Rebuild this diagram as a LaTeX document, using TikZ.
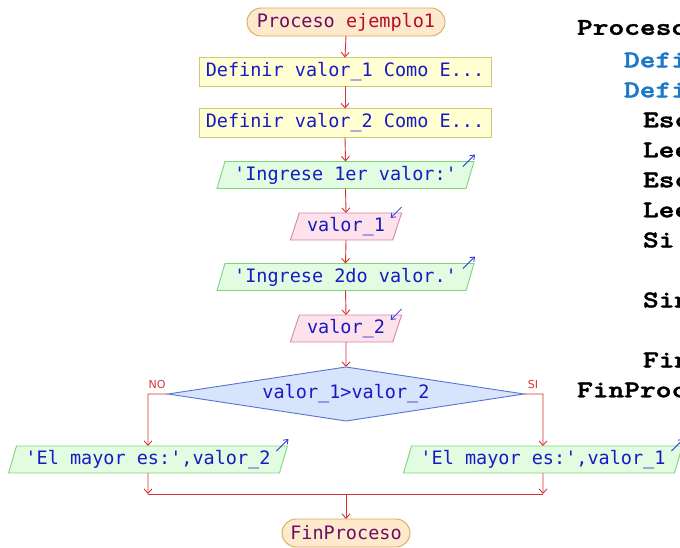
\documentclass[tikz,border=0pt]{standalone}
\usepackage{fontspec}
\usetikzlibrary{shapes.geometric,shapes.misc,arrows.meta,calc}
\newfontfamily\flowfont{DejaVu Sans Mono}
\newfontfamily\labfont{DejaVu Sans}
\newfontfamily\codefont{lmmonolt10-bold.otf}[FakeBold=1.6]
\definecolor{termfill}{HTML}{FDE9CB}
\definecolor{termdraw}{HTML}{D9A85A}
\definecolor{procfill}{HTML}{FFFFD2}
\definecolor{procdraw}{HTML}{CACA7C}
\definecolor{outfill}{HTML}{E2FCE2}
\definecolor{outdraw}{HTML}{7ED47E}
\definecolor{infill}{HTML}{FDE2EC}
\definecolor{indraw}{HTML}{D585A8}
\definecolor{decfill}{HTML}{D8E4FC}
\definecolor{decdraw}{HTML}{5574D4}
\definecolor{txtblue}{HTML}{1A1AC4}
\definecolor{txtpurple}{HTML}{6E0E62}
\definecolor{txtred}{HTML}{B80C2E}
\definecolor{linered}{HTML}{D83232}
\definecolor{iconblue}{HTML}{2A36D8}
\definecolor{codeblue}{HTML}{1E78C8}
\newcommand{\codeline}[1]{\scalebox{1.25}[1]{#1}}
\tikzset{
  x=1pt, y=-1pt,
  every node/.style={inner sep=0pt, outer sep=0pt},
  ftext/.style={font=\flowfont\fontsize{18.5}{20}\selectfont, text=txtblue},
  term/.style={rounded rectangle, fill=termfill, draw=termdraw, line width=0.9pt,
     minimum height=28, font=\flowfont\fontsize{18.5}{20}\selectfont, text=txtpurple},
  procbox/.style={rectangle, fill=procfill, draw=procdraw, line width=0.9pt,
     minimum width=292, minimum height=29, ftext},
  outbox/.style={trapezium, trapezium left angle=68, trapezium right angle=112,
     trapezium stretches=true, fill=outfill, draw=outdraw, line width=0.9pt,
     minimum height=27, ftext},
  inbox/.style={trapezium, trapezium left angle=68, trapezium right angle=112,
     trapezium stretches=true, fill=infill, draw=indraw, line width=0.9pt,
     minimum height=27, ftext},
  decbox/.style={diamond, aspect=6.6, fill=decfill, draw=decdraw, line width=0.9pt,
     minimum width=356, minimum height=54, ftext},
  conn/.style={draw=linered, line width=0.9pt},
  arr/.style={conn, -{Straight Barb[length=4.5pt,width=8pt]}},
  icon/.style={draw=iconblue, line width=0.8pt, -{Straight Barb[length=4pt,width=6pt]}},
  brlab/.style={font=\labfont\fontsize{11}{12}\selectfont, text=linered},
  code/.style={font=\codefont\fontsize{24}{26}\selectfont, anchor=west},
}
\begin{document}
\begin{tikzpicture}
\useasboundingbox (0,0) rectangle (680,548);
\clip (0,0) rectangle (680,548);

% nodes
\node[term, minimum width=198] (start) at (346,22) {Proceso \textcolor{txtred}{ejemplo1}};
\node[procbox] (d1) at (345,72) {Definir valor\_1 Como E...};
\node[procbox] (d2) at (345,123) {Definir valor\_2 Como E...};
\node[outbox, minimum width=257] (o1) at (345.5,175) {'Ingrese 1er valor:'};
\node[inbox, minimum width=112] (i1) at (346,226.5) {valor\_1};
\node[outbox, minimum width=257] (o2) at (345.5,277) {'Ingrese 2do valor.'};
\node[inbox, minimum width=112] (i2) at (346,328.5) {valor\_2};
\node[decbox] (dec) at (346,394) {valor\_1>valor\_2};
\node[outbox, minimum width=279] (oL) at (148,459.5) {'El mayor es:',valor\_2};
\node[outbox, minimum width=279] (oR) at (543,459.5) {'El mayor es:',valor\_1};
\node[term, minimum width=128] (end) at (346,533) {FinProceso};

\node[brlab] (no) at (157,384) {NO};
\node[brlab] (si) at (533,384) {SI};

\coordinate (bL) at (148,394);
\coordinate (bR) at (543,394);
\coordinate (mL) at (148,494);
\coordinate (mR) at (543,494);
\coordinate (mC) at (346,494);

% connectors
\draw[arr] (start.south) -- (d1.north);
\draw[arr] (d1.south) -- (d2.north);
\draw[arr] (d2.south) -- (o1.north);
\draw[arr] (o1.south) -- (i1.north);
\draw[arr] (i1.south) -- (o2.north);
\draw[arr] (o2.south) -- (i2.north);
\draw[arr] (i2.south) -- (dec.north);
\draw[arr] (dec.west) -- (bL) -- (oL.north);
\draw[arr] (dec.east) -- (bR) -- (oR.north);
\draw[arr] (oL.south) -- (mL);
\draw[arr] (oR.south) -- (mR);
\draw[conn] (mL) -- (mR);
\draw[arr] (mC) -- (end.north);

% io icons
\foreach \n in {o1,o2,oL,oR}{
  \draw[icon] ($(\n.top right corner)+(-11,5)$) -- ($(\n.top right corner)+(1,-7)$);
}
\foreach \n in {i1,i2}{
  \draw[icon] ($(\n.top right corner)+(0,-6)$) -- ($(\n.top right corner)+(-11,5)$);
}

% code text
\node[code] (c1) at (577,30) {\codeline{Proceso ejemplo1}};
\node[code, text=codeblue] (c2) at (624,60) {\codeline{Definir}};
\node[code, text=codeblue] (c3) at (624,90) {\codeline{Definir}};
\node[code] (c4) at (643,120) {\codeline{Escribir}};
\node[code] (c5) at (643,150) {\codeline{Leer}};
\node[code] (c6) at (643,180) {\codeline{Escribir}};
\node[code] (c7) at (643,210) {\codeline{Leer}};
\node[code] (c8) at (643,240) {\codeline{Si valor}};
\node[code] (c9) at (643,300) {\codeline{Sino}};
\node[code] (c10) at (643,360) {\codeline{FinSi}};
\node[code] (c11) at (577,390) {\codeline{FinProceso}};
\end{tikzpicture}
\end{document}
